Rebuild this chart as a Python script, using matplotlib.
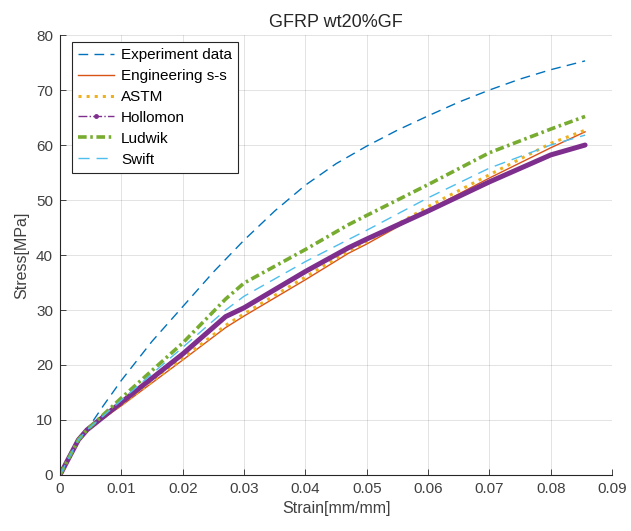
import matplotlib
matplotlib.use('Agg')
import matplotlib.pyplot as plt
from matplotlib.lines import Line2D

plt.rcParams['font.family'] = ['Liberation Sans', 'DejaVu Sans']

# experiment curve, strain [mm/mm] and stress [MPa]
exp_strain = [0, 0.0013, 0.003, 0.0044, 0.007, 0.01, 0.015, 0.02, 0.025, 0.03, 0.035,
              0.04, 0.045, 0.05, 0.055, 0.06, 0.065, 0.07, 0.075, 0.08, 0.0856]
experiment = [0, 2.8, 6.4, 8.2, 12.5, 17.2, 24.3, 30.6, 36.9, 42.7, 48.0,
              52.7, 56.6, 59.8, 62.7, 65.3, 67.8, 70.0, 72.0, 73.7, 75.3]

# model curves share one strain grid
strain = [0, 0.0013, 0.003, 0.0044, 0.01, 0.02, 0.027, 0.03, 0.04, 0.047, 0.05, 0.06, 0.07, 0.08, 0.0856]
engineering = [0, 2.8, 6.4, 8.2, 12.6, 20.9, 26.8, 28.9, 35.5, 40.3, 42.0, 48.2, 54.0, 59.5, 62.4]
astm = [0, 2.8, 6.4, 8.2, 12.8, 21.2, 27.2, 29.3, 36.0, 40.7, 42.4, 48.8, 54.6, 60.3, 62.7]
hollomon = [0, 2.8, 6.4, 8.2, 13.2, 22.0, 28.8, 30.4, 37.0, 41.3, 42.9, 48.0, 53.3, 58.2, 60.0]
ludwik = [0, 2.8, 6.4, 8.2, 14.0, 24.0, 32.0, 34.9, 41.0, 45.5, 47.2, 52.8, 58.6, 62.9, 65.2]
swift = [0, 2.8, 6.4, 8.2, 13.6, 23.2, 30.0, 32.5, 38.8, 42.8, 44.5, 50.4, 55.8, 60.0, 61.8]

c_blue = '#0072BD'
c_orange = '#D95319'
c_yellow = '#EDB120'
c_purple = '#7E2F8E'
c_green = '#77AC30'
c_cyan = '#4DBEEE'

fig = plt.figure(figsize=(6.31, 5.31), dpi=100)
ax = fig.add_axes([0.0951, 0.1055, 0.8749, 0.8285])

ax.plot(exp_strain, experiment, '--', color=c_blue, lw=1.0, dashes=(7, 4.5))
ax.plot(strain, engineering, '-', color=c_orange, lw=1.0)
ax.plot(strain, astm, ':', color=c_yellow, lw=2.2)
# dense Hollomon points look like a solid band
ax.plot(strain, hollomon, '-', color=c_purple, lw=3.6, solid_capstyle='round')
ax.plot(strain, ludwik, '-.', color=c_green, lw=2.6, dashes=(2.4, 1.0, 0.7, 1.0))
ax.plot(strain, swift, '--', color=c_cyan, lw=1.0, dashes=(8, 5))

ax.set_xlim(0, 0.09)
ax.set_ylim(0, 80)
ax.set_xticks([0, 0.01, 0.02, 0.03, 0.04, 0.05, 0.06, 0.07, 0.08, 0.09])
ax.set_xticklabels(['0', '0.01', '0.02', '0.03', '0.04', '0.05', '0.06', '0.07', '0.08', '0.09'])
ax.set_yticks(range(0, 81, 10))

ax.grid(True, color='#262626', alpha=0.15, lw=0.6)
ax.set_axisbelow(True)
for s in ['top', 'right']:
    ax.spines[s].set_visible(False)
for s in ['left', 'bottom']:
    ax.spines[s].set_color('#262626')
    ax.spines[s].set_linewidth(0.8)
ax.tick_params(direction='in', length=4, width=0.6, colors='#262626', labelsize=11, pad=5,
               labelcolor='#404040')

ax.set_xlabel('Strain[mm/mm]', fontsize=11.5, color='#404040', labelpad=4)
ax.set_ylabel('Stress[MPa]', fontsize=11.5, color='#404040', labelpad=5)
ax.set_title('GFRP wt20%GF', fontsize=13, color='#262626', pad=6)

handles = [
    Line2D([], [], ls='--', color=c_blue, lw=1.0, dashes=(7, 4.5)),
    Line2D([], [], ls='-', color=c_orange, lw=1.0),
    Line2D([], [], ls=':', color=c_yellow, lw=2.2),
    Line2D([], [], ls='-.', color=c_purple, lw=1.0, marker='.', ms=5),
    Line2D([], [], ls='-.', color=c_green, lw=2.6, dashes=(2.4, 1.0, 0.7, 1.0)),
    Line2D([], [], ls='--', color=c_cyan, lw=1.0, dashes=(8, 5)),
]
labels = ['Experiment data', 'Engineering s-s', 'ASTM', 'Hollomon', 'Ludwik', 'Swift']
leg = ax.legend(handles, labels, loc='upper left', bbox_to_anchor=(12 / 552, 1 - 7 / 440),
                borderaxespad=0, fontsize=11, frameon=True, fancybox=False,
                framealpha=1, edgecolor='#262626', handlelength=2.35,
                handletextpad=0.45, labelspacing=0.45, borderpad=0.4)
leg.get_frame().set_linewidth(0.8)

fig.savefig('out.png', dpi=100)
